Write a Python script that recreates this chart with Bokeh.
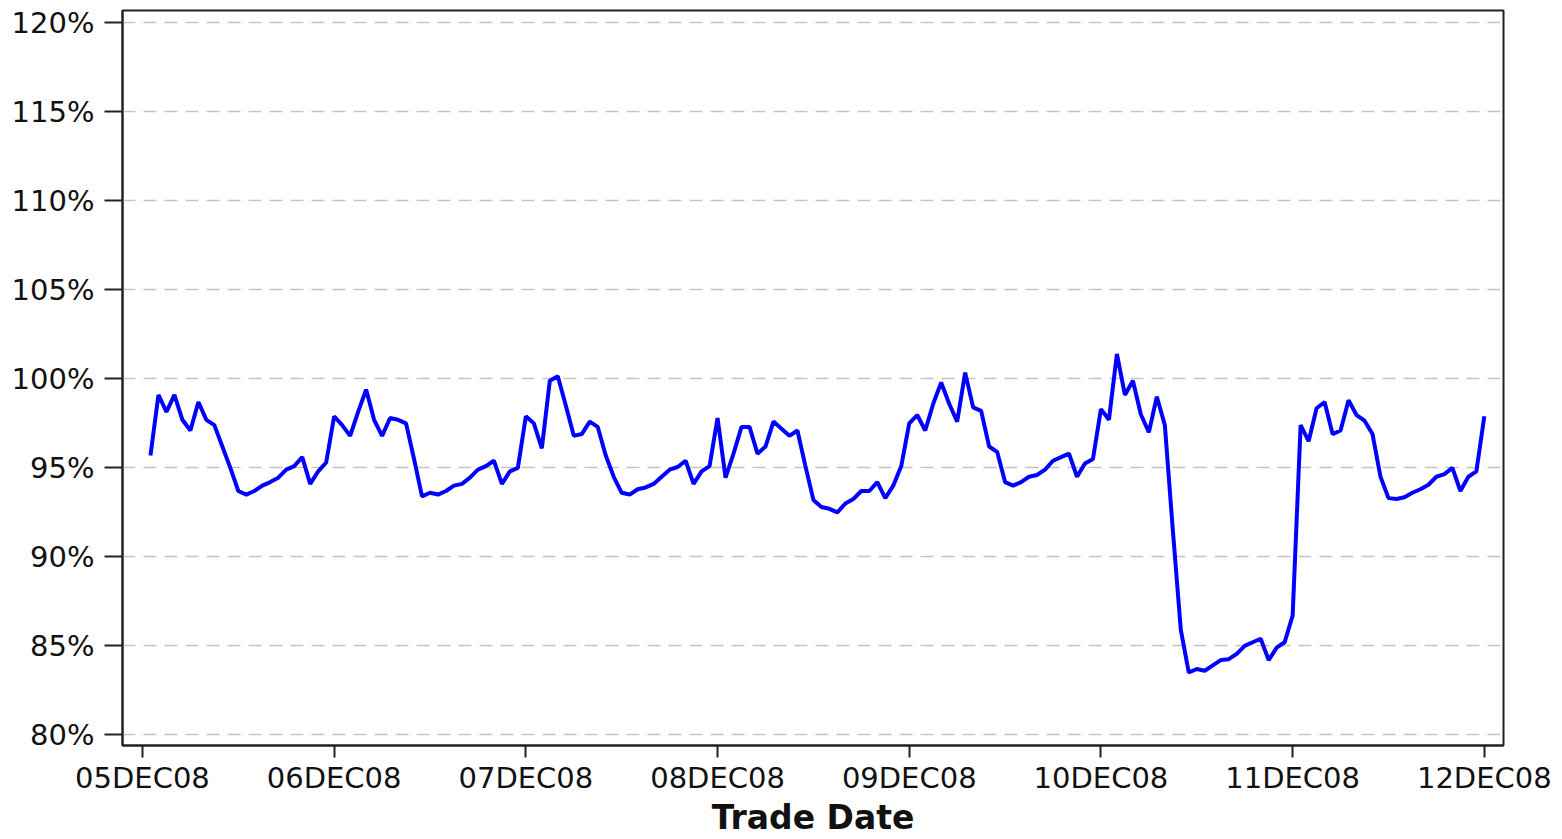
import numpy as np
from bokeh.plotting import figure
from bokeh.models import FixedTicker, Range1d
from bokeh.embed import file_html
from bokeh.resources import INLINE

# Hourly values (%), hours 1..24 of each trade date
dec05 = [95.7, 99.1, 98.15, 99.1, 97.7, 97.1, 98.7, 97.7, 97.4, 96.2, 95.0, 93.7,
         93.5, 93.7, 94.0, 94.2, 94.45, 94.9, 95.1, 95.6, 94.1, 94.8, 95.3, 97.9]
dec06 = [97.4, 96.8, 98.15, 99.4, 97.7, 96.8, 97.8, 97.7, 97.5, 95.5, 93.4, 93.6,
         93.5, 93.7, 94.0, 94.1, 94.45, 94.9, 95.1, 95.4, 94.1, 94.8, 95.0, 97.9]
dec07 = [97.5, 96.1, 99.9, 100.15, 98.5, 96.8, 96.9, 97.6, 97.3, 95.7, 94.5, 93.6,
         93.5, 93.8, 93.9, 94.1, 94.5, 94.9, 95.05, 95.4, 94.1, 94.8, 95.1, 97.8]
dec08 = [94.45, 95.8, 97.3, 97.3, 95.8, 96.2, 97.6, 97.2, 96.8, 97.1, 95.1, 93.2,
         92.8, 92.7, 92.5, 93.0, 93.25, 93.7, 93.7, 94.2, 93.3, 94.0, 95.1, 97.5]
dec09 = [97.97, 97.1, 98.6, 99.8, 98.6, 97.6, 100.35, 98.4, 98.2, 96.2, 95.9, 94.2,
         94.0, 94.2, 94.5, 94.6, 94.9, 95.4, 95.6, 95.8, 94.5, 95.25, 95.5, 98.3]
dec10 = [97.7, 101.4, 99.1, 99.9, 98.0, 97.0, 99.0, 97.4, 91.5, 85.9, 83.5, 83.7,
         83.6, 83.9, 84.2, 84.25, 84.55, 85.0, 85.2, 85.4, 84.2, 84.9, 85.2, 86.7]
dec11 = [97.4, 96.5, 98.35, 98.7, 96.9, 97.1, 98.8, 97.97, 97.65, 96.9, 94.5, 93.3,
         93.25, 93.35, 93.6, 93.8, 94.05, 94.5, 94.65, 95.0, 93.7, 94.5, 94.8, 97.9]

date_labels = ["05DEC08", "06DEC08", "07DEC08", "08DEC08", "09DEC08", "10DEC08", "11DEC08", "12DEC08"]
pct_ticks = [80, 85, 90, 95, 100, 105, 110, 115, 120]
pct_labels = ["80%", "85%", "90%", "95%", "100%", "105%", "110%", "115%", "120%"]

values = dec05 + dec06 + dec07 + dec08 + dec09 + dec10 + dec11
hours = np.arange(1, len(values) + 1)          # hours since 05DEC08 00:00
date_ticks = [24 * i for i in range(len(date_labels))]

FONT = "DejaVu Sans"

p = figure(width=1562, height=839, output_backend="svg", toolbar_location=None,
           x_range=Range1d(-2.5, 170.4), y_range=Range1d(79.4, 120.7),
           min_border_left=122, min_border_right=59, min_border_top=10, min_border_bottom=92,
           background_fill_color="white", border_fill_color="white")

p.line(hours, values, line_color="#0000FF", line_width=4)

p.outline_line_color = "#222222"
p.outline_line_width = 2

p.xgrid.visible = False
p.ygrid.ticker = FixedTicker(ticks=pct_ticks)
p.ygrid.grid_line_color = "#c4c4c4"
p.ygrid.grid_line_width = 1.5
p.ygrid.grid_line_dash = "13 8"

p.xaxis.ticker = FixedTicker(ticks=date_ticks)
p.xaxis.major_label_overrides = dict(zip(date_ticks, date_labels))
p.yaxis.ticker = FixedTicker(ticks=pct_ticks)
p.yaxis.major_label_overrides = dict(zip(pct_ticks, pct_labels))

for ax in (p.xaxis[0], p.yaxis[0]):
    ax.axis_line_color = "#222222"
    ax.axis_line_width = 2
    ax.major_tick_line_color = "#222222"
    ax.major_tick_line_width = 2
    ax.major_tick_in = 0
    ax.minor_tick_line_color = None
    ax.major_label_text_font = FONT
    ax.major_label_text_font_size = "29px"
    ax.major_label_text_color = "#111111"

p.xaxis.major_tick_out = 12
p.xaxis.major_label_standoff = 3
p.yaxis.major_tick_out = 18
p.yaxis.major_label_standoff = 10

p.xaxis.axis_label = "Trade Date"
p.xaxis.axis_label_text_font = FONT
p.xaxis.axis_label_text_font_size = "33px"
p.xaxis.axis_label_text_font_style = "bold"
p.xaxis.axis_label_text_color = "#111111"
p.xaxis.axis_label_standoff = 0

open("out.html", "w").write(file_html(p, INLINE))
